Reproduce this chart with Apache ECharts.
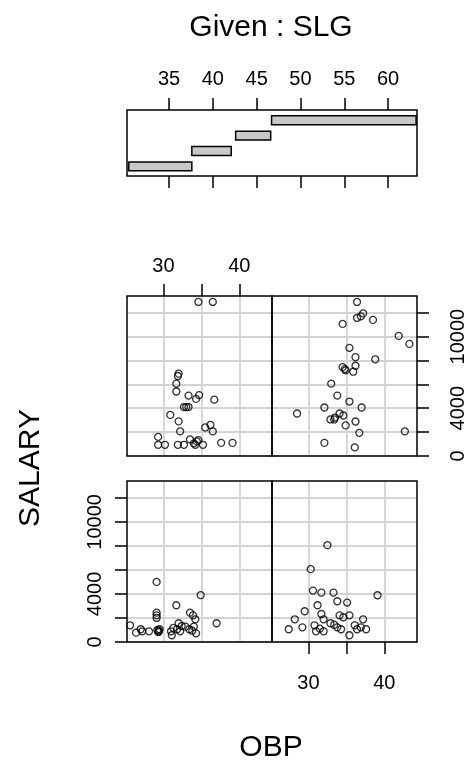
<!DOCTYPE html>
<html lang="en">
<head>
<meta charset="UTF-8">
<title>coplot SALARY ~ OBP | SLG</title>
<script src="https://cdn.jsdelivr.net/npm/echarts@6/dist/echarts.min.js"></script>
<style>
    html, body { margin: 0; padding: 0; background: #fff; }
    #main { width: 469px; height: 768px; }
</style>
</head>
<body>
<div id="main"></div>

<script type="text/javascript">
    // given variable SLG: the four intervals
    var slgLow  = [30.4, 37.6, 42.6, 46.7];
    var slgHigh = [37.6, 42.1, 46.6, 63.2];
    var slgTicks = [35, 40, 45, 50, 55, 60];

    // panel 1: bottom left (lowest SLG)
    var obp1 = [29.1, 34.9, 31.7, 29.1, 29.1, 29.1, 33.5, 33.9, 34.2, 37.0, 25.6, 26.4, 27.0, 27.2, 28.1, 29.4,
                29.3, 29.5, 29.2, 29.4, 31.0, 31.1, 31.3, 32.0, 32.2, 32.4, 32.9, 33.4, 33.8, 34.3, 34.0, 31.8];
    var sal1 = [5000, 3900, 3060, 2440, 2220, 2000, 2440, 2220, 1890, 1560, 1390, 780, 1060, 890, 890, 940,
                830, 1060, 1000, 870, 890, 560, 1170, 1560, 890, 1330, 1280, 1060, 940, 720, 1280, 1060];

    // panel 2: bottom right
    var obp2 = [32.5, 30.3, 30.6, 31.7, 33.3, 33.8, 35.1, 39.1, 31.2, 29.5, 31.7, 32.0, 34.1, 34.6, 35.4, 28.2,
                37.2, 27.4, 29.2, 30.8, 31.0, 31.5, 32.0, 32.9, 33.4, 34.3, 35.4, 36.1, 36.4, 37.6, 36.9, 33.8];
    var sal2 = [8060, 6060, 4280, 4110, 4110, 3390, 3280, 3890, 3060, 2560, 2330, 1890, 2220, 2060, 2220, 1890,
                1890, 1060, 1220, 1390, 890, 1110, 890, 1560, 1440, 1060, 560, 1390, 1060, 1060, 1220, 1220];

    // panel 3: top left
    var obp3 = [34.6, 36.5, 32.0, 31.9, 31.7, 31.7, 33.3, 34.7, 34.3, 36.7, 32.7, 33.3, 30.9, 32.0, 32.2, 35.5,
                36.2, 36.5, 29.3, 29.3, 30.2, 31.9, 32.7, 33.5, 34.0, 34.4, 34.6, 35.2, 37.6, 39.1, 34.2, 33.0];
    var sal3 = [12900, 12900, 6900, 6700, 6060, 5400, 5060, 5100, 4780, 4720, 4100, 4100, 3440, 2900, 2060, 2390,
                2600, 2060, 1600, 940, 940, 940, 940, 1390, 1060, 1220, 1330, 940, 1100, 1100, 940, 4100];

    // panel 4: top right (highest SLG)
    var obp4 = [36.4, 37.2, 36.4, 36.9, 38.5, 34.5, 41.9, 43.3, 35.4, 36.2, 38.8, 36.2, 34.5, 34.8, 34.9, 35.9,
                33.0, 33.8, 35.4, 37.0, 32.1, 28.5, 34.1, 34.6, 32.9, 33.4, 33.5, 36.2, 34.9, 36.7, 42.7, 32.1, 36.1];
    var sal4 = [12900, 11940, 11560, 11700, 11400, 11060, 10060, 9390, 9060, 8280, 8100, 7560, 7440, 7280, 7170, 7060,
                6060, 5060, 4560, 4060, 4060, 3560, 3560, 3390, 3060, 3060, 3220, 2890, 2560, 1940, 2060, 1100, 720];

    var obpTicks = [30, 35, 40];
    var obpLabels = [30, 40];
    var salTicks = [0, 2000, 4000, 6000, 8000, 10000, 12000];
    var salLabels = [0, 4000, 10000];

    var font = 'Liberation Sans, Arial, sans-serif';
    var tickStyle = {color: '#000', width: 1.5};
    var gridLine = {show: true, lineStyle: {color: '#d3d3d3', width: 1.8}};
    var plain = function (v) { return String(v); };

    var myChart = echarts.init(document.getElementById('main'));

    // panel boxes (index 0 = given panel)
    var boxes = [
        {left: 127, top: 110, width: 290, height: 66},
        {left: 127, top: 481, width: 145, height: 161},
        {left: 272, top: 481, width: 145, height: 161},
        {left: 127, top: 296, width: 145, height: 160},
        {left: 272, top: 296, width: 145, height: 160}
    ];
    var grids = boxes.map(function (b) {
        return {
            left: b.left, top: b.top, width: b.width, height: b.height,
            show: true, borderColor: '#000', borderWidth: 1.5,
            backgroundColor: 'transparent', z: 3,
            outerBoundsMode: 'none', containLabel: false
        };
    });

    function obpAxis(grid, pos, labels, margin) {
        return {
            type: 'value', gridIndex: grid, min: 25.2, max: 44.3, position: pos,
            axisLine: {show: false, onZero: false},
            axisTick: {show: labels, length: 12, lineStyle: tickStyle, customValues: obpTicks},
            axisLabel: {show: labels, customValues: obpLabels, margin: margin, formatter: plain,
                fontSize: 20, color: '#000', fontFamily: font},
            splitLine: gridLine
        };
    }

    function salAxis(grid, pos, labels, margin) {
        return {
            type: 'value', gridIndex: grid, min: 0, max: 13400, interval: 2000, position: pos,
            axisLine: {show: false, onZero: false},
            axisTick: {show: labels, length: 12, lineStyle: tickStyle, customValues: salTicks},
            axisLabel: {show: labels, customValues: salLabels, rotate: 90, margin: margin, formatter: plain,
                fontSize: 20, color: '#000', fontFamily: font},
            splitLine: gridLine
        };
    }

    var xAxes = [
        {
            type: 'value', gridIndex: 0, min: 30.2, max: 63.3, position: 'top',
            axisLine: {show: false, onZero: false},
            axisTick: {length: 12, lineStyle: tickStyle, customValues: slgTicks},
            axisLabel: {customValues: slgTicks, margin: 21, formatter: plain,
                fontSize: 20, color: '#000', fontFamily: font},
            splitLine: {show: false}
        },
        {
            type: 'value', gridIndex: 0, min: 30.2, max: 63.3, position: 'bottom',
            axisLine: {show: false, onZero: false},
            axisTick: {length: 12, lineStyle: tickStyle, customValues: slgTicks},
            axisLabel: {show: false},
            splitLine: {show: false}
        },
        obpAxis(1, 'bottom', false, 0),
        obpAxis(2, 'bottom', true, 31),
        obpAxis(3, 'top', true, 20),
        obpAxis(4, 'top', false, 0)
    ];

    var yAxes = [
        {type: 'value', gridIndex: 0, min: 0.37, max: 4.67, show: false},
        salAxis(1, 'left', true, 22),
        salAxis(2, 'left', false, 0),
        salAxis(3, 'left', false, 0),
        salAxis(4, 'right', true, 31)
    ];

    function pairs(xs, ys) {
        return xs.map(function (x, i) { return [x, ys[i]]; });
    }

    var panelData = [pairs(obp1, sal1), pairs(obp2, sal2), pairs(obp3, sal3), pairs(obp4, sal4)];

    var series = [{
        type: 'custom',
        xAxisIndex: 0, yAxisIndex: 0,
        data: slgLow.map(function (lo, i) { return [lo, slgHigh[i], i + 1]; }),
        encode: {x: [0, 1], y: 2},
        renderItem: function (params, api) {
            var a = api.coord([api.value(0), api.value(2)]);
            var b = api.coord([api.value(1), api.value(2)]);
            var h = api.size([0, 0.58])[1];
            return {
                type: 'rect',
                shape: {x: a[0], y: a[1] - h / 2, width: b[0] - a[0], height: h},
                style: {fill: '#c8c8c8', stroke: '#000', lineWidth: 1.5}
            };
        }
    }];

    panelData.forEach(function (d, i) {
        series.push({
            type: 'scatter',
            xAxisIndex: i + 2, yAxisIndex: i + 1,
            data: d,
            symbol: 'circle', symbolSize: 7,
            itemStyle: {color: 'rgba(0,0,0,0)', borderColor: '#000', borderWidth: 1.3}
        });
    });

    var option = {
        animation: false,
        backgroundColor: '#fff',
        grid: grids,
        xAxis: xAxes,
        yAxis: yAxes,
        series: series,
        graphic: [
            {type: 'text', x: 271, y: 28, style: {text: 'Given : SLG', font: '30px ' + font,
                fill: '#000', textAlign: 'center', textVerticalAlign: 'middle'}},
            {type: 'text', x: 271, y: 748, style: {text: 'OBP', font: '30px ' + font,
                fill: '#000', textAlign: 'center', textVerticalAlign: 'middle'}},
            {type: 'text', x: 31, y: 468, rotation: Math.PI / 2, style: {text: 'SALARY', font: '30px ' + font,
                fill: '#000', textAlign: 'center', textVerticalAlign: 'middle'}}
        ]
    };

    myChart.setOption(option);
</script>
</body>
</html>
